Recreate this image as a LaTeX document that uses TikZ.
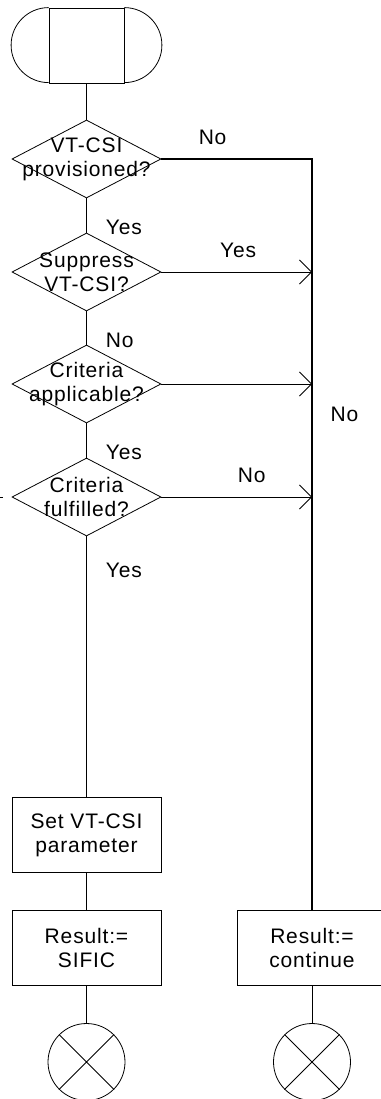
\documentclass[tikz,border=0pt]{standalone}
\usepackage{fontspec}
\setmainfont[LetterSpace=4]{Liberation Sans}
\usetikzlibrary{arrows.meta,shapes.geometric}

\begin{document}
\begin{tikzpicture}[x=1pt,y=-1pt,line width=0.8pt]
  \tikzstyle{dec}=[draw,diamond,minimum width=149pt,minimum height=78pt,inner sep=0pt]
  \tikzstyle{dtext}=[align=center,font=\fontsize{21}{24}\selectfont,inner sep=0pt]
  \tikzstyle{task}=[draw,minimum width=149pt,minimum height=75pt,align=center,font=\fontsize{21}{24}\selectfont]
  \tikzstyle{stop}=[draw,circle,minimum size=77pt,inner sep=0pt]
  \tikzstyle{lab}=[inner sep=0pt,font=\fontsize{21}{24}\selectfont]
  \tikzstyle{barb}=[-{Straight Barb[length=12pt,width=24pt]}]
  \useasboundingbox (0,0) rectangle (380,1099);
  \node [draw,minimum width=75pt,minimum height=75pt,inner sep=0pt] (start) at (86.5,45.5) {} ;
  \draw (start.north west) arc [start angle=90,end angle=270,radius=37.5pt] ;
  \draw (start.north east) arc [start angle=90,end angle=-90,radius=37.5pt] ;
  \node [dec,label={[dtext]center:VT-CSI\\provisioned?}] (prov) at (86.5,159) {} ;
  \node [dec,label={[dtext]center:Suppress\\VT-CSI?}] (supp) at (86.5,272) {} ;
  \node [dec,label={[dtext]center:Criteria\\applicable?}] (appl) at (86.5,384) {} ;
  \node [dec,label={[dtext]center:Criteria\\fulfilled?}] (fulf) at (86.5,497) {} ;
  \node [task] (setpar) at (86.5,835) {Set VT-CSI\\parameter} ;
  \node [task] (sific) at (86.5,948) {Result:=\\SIFIC} ;
  \node [task] (cont) at (312,948) {Result:=\\continue} ;
  \node [stop] (endA) at (86.5,1062) {} ;
  \node [stop] (endB) at (312,1062) {} ;
  \draw (endA.north west) -- (endA.south east) (endA.north east) -- (endA.south west) ;
  \draw (endB.north west) -- (endB.south east) (endB.north east) -- (endB.south west) ;
  \coordinate (jsupp) at (supp.east -| cont.north) ;
  \coordinate (jappl) at (appl.east -| cont.north) ;
  \coordinate (jfulf) at (fulf.east -| cont.north) ;
  \coordinate (outA) at (0,497) ;
  \coordinate (outB) at (3,497) ;
  \path [draw] (start) edge (prov) ;
  \path [draw] (prov) edge node[lab,pos=0.84,right=19pt] {Yes} (supp) ;
  \path [draw] (supp) edge node[lab,pos=0.87,right=19pt] {No} (appl) ;
  \path [draw] (appl) edge node[lab,pos=0.86,right=19pt] {Yes} (fulf) ;
  \path [draw] (fulf) edge node[lab,pos=0.13,right=19pt] {Yes} (setpar) ;
  \path [draw] (setpar) edge (sific) ;
  \path [draw] (sific) edge (endA) ;
  \path [draw] (cont) edge (endB) ;
  \draw [line width=1.2pt] (prov.east) -| node[lab,pos=0.17,above=14pt] {No} node[lab,pos=0.67,right=18pt] {No} (cont.north) ;
  \draw [barb] (supp.east) -- node[lab,pos=0.51,above=14pt] {Yes} (jsupp) ;
  \draw [barb] (appl.east) -- (jappl) ;
  \draw [barb] (fulf.east) -- node[lab,pos=0.6,above=14pt] {No} (jfulf) ;
  \draw (outA) -- (outB) ;
\end{tikzpicture}
\end{document}
